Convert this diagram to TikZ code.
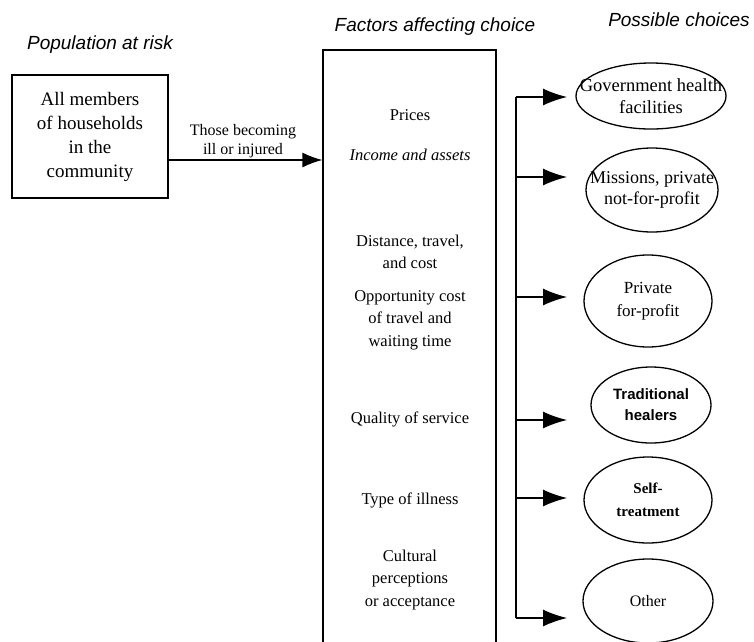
\documentclass[tikz,border=0pt]{standalone}
\usepackage{fontspec}
\setmainfont{Liberation Serif}
\setsansfont{Liberation Sans}
\usetikzlibrary{shapes.geometric,arrows.meta}
\newcommand{\fs}[2]{\fontsize{#1}{#2}\selectfont}
\tikzset{
  title/.style={font=\sffamily\itshape\fs{19}{23}, inner sep=0pt},
  ftext/.style={align=center, inner sep=0pt, font=\fs{16.5}{22.5}},
  choice/.style={draw, ellipse, line width=1.3pt, inner sep=0pt},
  ctext/.style={align=center, inner sep=0pt},
  conn/.style={line width=1.3pt},
  arr/.style={line width=1.3pt, -{Latex[length=24pt,width=17pt]}},
  mainarr/.style={line width=1.3pt, -{Latex[length=20pt,width=15pt]}},
}
\begin{document}
\begin{tikzpicture}[x=1pt,y=-1pt]
\useasboundingbox (0,0) rectangle (754,641);
% titles
\node[title] (tpop) at (100,45) {Population at risk};
\node[title] (tfac) at (435,27) {Factors affecting choice};
\node[title] (tch) at (679,20) {Possible choices};
% population box
\node[draw, line width=1.3pt, minimum width=156pt, minimum height=123pt, inner sep=0pt,
      align=center, font=\fs{19}{24}] (pop) at (90,136.5)
  {All members\\of households\\in the\\community};
% factors box
\node[draw, line width=1.3pt, minimum width=173pt, minimum height=620pt, inner sep=0pt] (fac) at (409.5,360) {};
% arrow pop -> factors
\coordinate (pa) at (168,160);
\draw[mainarr] (pa) -- (fac.west |- pa);
\node[align=center, inner sep=0pt, font=\fs{16}{19}] (lbl) at (243,141) {Those becoming\\ill or injured};
% factor texts
\node[ftext] (f1) at (410,115) {Prices};
\node[ftext, font=\itshape\fs{16.5}{20}] (f2) at (410,155) {Income and assets};
\node[ftext] (f3) at (410,252) {Distance, travel,\\and cost};
\node[ftext] (f4) at (410,320) {Opportunity cost\\of travel and\\waiting time};
\node[ftext] (f5) at (410,419) {Quality of service};
\node[ftext] (f6) at (410,500) {Type of illness};
\node[ftext] (f7) at (410,580) {Cultural\\perceptions\\or acceptance};
% choices
\node[choice, minimum width=150pt, minimum height=66pt,
  label={[ctext, font=\fs{18.5}{22}, name=l1]center:Government health\\facilities}] (c1) at (651,96) {};
\node[choice, minimum width=132pt, minimum height=84pt,
  label={[ctext, font=\fs{18}{21}, name=l2]center:Missions, private\\not-for-profit}] (c2) at (652,190) {};
\node[choice, minimum width=128pt, minimum height=92pt,
  label={[ctext, font=\fs{17}{23}, name=l3]center:Private\\for-profit}] (c3) at (648,301) {};
\node[choice, minimum width=120pt, minimum height=76pt,
  label={[ctext, font=\sffamily\bfseries\fs{15}{21}, name=l4]center:Traditional\\healers}] (c4) at (651,405) {};
\node[choice, minimum width=128pt, minimum height=86pt,
  label={[ctext, font=\bfseries\fs{15}{23}, name=l5]center:Self-\\treatment}] (c5) at (648,500) {};
\node[choice, minimum width=130pt, minimum height=84pt,
  label={[ctext, font=\fs{16}{20}, name=l6]center:Other}] (c6) at (648,601) {};
% spine
\coordinate (s1) at (516,97);
\coordinate (s2) at (516,177);
\coordinate (s3) at (516,297);
\coordinate (s4) at (516,420);
\coordinate (s5) at (516,498);
\coordinate (s6) at (516,618);
\draw[conn] (s1) -- (s6);
\foreach \i/\y in {1/97,2/177,3/297,4/420,5/498,6/618}{
  \coordinate (t\i) at (567,\y);
  \draw[arr] (s\i) -- (t\i);
}
\end{tikzpicture}
\end{document}
